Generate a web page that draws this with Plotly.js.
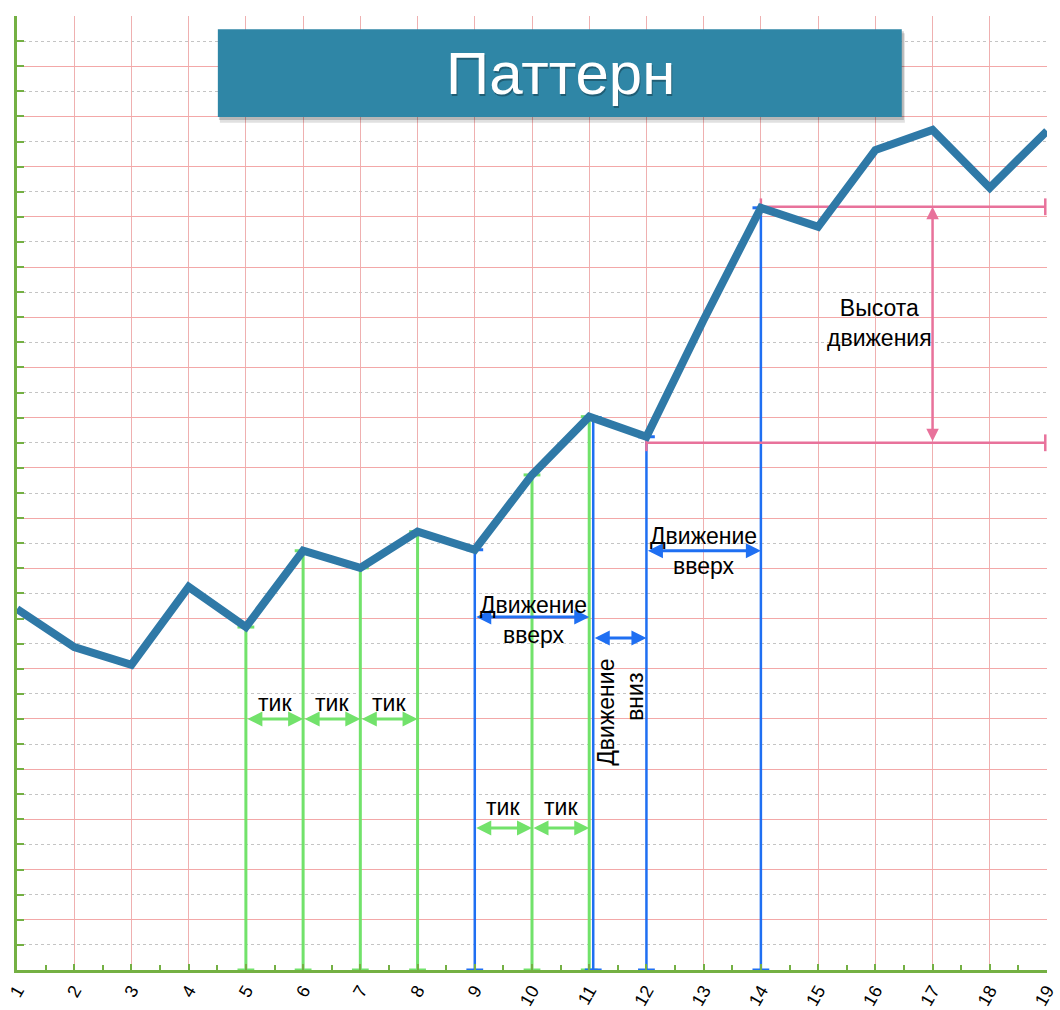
<!DOCTYPE html>
<html>
<head>
<meta charset="utf-8">
<script src="https://cdn.plot.ly/plotly-3.0.1.min.js"></script>
<style>html,body{margin:0;padding:0;background:#fff;}#chart{width:1060px;height:1010px;}</style>
</head>
<body>
<div id="chart"></div>
<script>
// ---- data ----
const xTicks = [1,2,3,4,5,6,7,8,9,10,11,12,13,14,15,16,17,18,19];
const tickLabels = ["1","2","3","4","5","6","7","8","9","10","11","12","13","14","15","16","17","18","19"];
const priceValues = [7.19,6.43,6.08,7.63,6.83,8.35,8.01,8.73,8.37,9.86,11.02,10.62,12.95,15.18,14.80,16.33,16.73,15.58,16.71];

const greenLineX = [5,6,7,8,10,11];
const greenLineTop = [6.83,8.35,8.01,8.73,9.86,11.02];
const blueLineX = [9,11.07,12,14];
const blueLineTop = [8.37,11.0,10.62,15.18];

// tick arrows
const tickArrowFrom = [5,6,7,9,10];
const tickArrowTo   = [6,7,8,10,11];
const tickArrowY    = [5.0,5.0,5.0,2.83,2.83];
const tickLabelY    = [5.32,5.32,5.32,3.24,3.24];
const tickText = "тик";

// blue movement arrows
const moveFrom = [9,11.07,12];
const moveTo   = [11,12,14];
const moveY    = [7.03,6.61,8.35];

// height of movement
const heightLow = 10.5;
const heightHigh = 15.2;
const heightLowFrom = 12;
const heightHighFrom = 14;
const heightRightX = 18.97;
const heightArrowX = 17;

const green = '#72e26b';
const blue = '#1f6ff2';
const pink = '#e8729b';
const axisGreen = '#74b043';
const mainLine = '#2f79a7';
const font = 'Liberation Sans, Arial, sans-serif';

const traces = [];
greenLineX.forEach((x,i)=>{
  traces.push({x:[x,x], y:[0,greenLineTop[i]], mode:'lines+markers', line:{color:green,width:3},
    marker:{symbol:'line-ew', size:12, line:{color:green,width:3}}, hoverinfo:'skip', showlegend:false, cliponaxis:false});
});
blueLineX.forEach((x,i)=>{
  traces.push({x:[x,x], y:[0,blueLineTop[i]], mode:'lines+markers', line:{color:blue,width:2.5},
    marker:{symbol:'line-ew', size:12, line:{color:blue,width:3}}, hoverinfo:'skip', showlegend:false, cliponaxis:false});
});
traces.push({x:[heightHighFrom, heightRightX], y:[heightHigh,heightHigh], mode:'lines+markers', line:{color:pink,width:2.5},
  marker:{symbol:'line-ns', size:12, line:{color:pink,width:2.5}}, hoverinfo:'skip', showlegend:false, cliponaxis:false});
traces.push({x:[heightLowFrom, heightRightX], y:[heightLow,heightLow], mode:'lines+markers', line:{color:pink,width:2.5},
  marker:{symbol:'line-ns', size:12, line:{color:pink,width:2.5}}, hoverinfo:'skip', showlegend:false, cliponaxis:false});
traces.push({x:xTicks, y:priceValues, mode:'lines', line:{color:mainLine,width:8}, hoverinfo:'skip', showlegend:false, cliponaxis:false});

const annotations = [];
function arrow(x0,x1,y0,y1,color,width){
  return {x:x1,y:y1,ax:x0,ay:y0,xref:'x',yref:'y',axref:'x',ayref:'y',text:'',showarrow:true,
    arrowside:'end+start',arrowhead:2,arrowsize:1,arrowwidth:width,arrowcolor:color,standoff:0,startstandoff:0};
}
const txtFont = {family:font,size:23,color:'#000'};
tickArrowFrom.forEach((f,i)=>{
  annotations.push(arrow(f,tickArrowTo[i],tickArrowY[i],tickArrowY[i],green,3));
  annotations.push({x:(f+tickArrowTo[i])/2, y:tickLabelY[i], xref:'x', yref:'y', text:tickText, showarrow:false,
    font:{family:font,size:23,color:'#000'}});
});
moveFrom.forEach((f,i)=>{
  annotations.push(arrow(f,moveTo[i],moveY[i],moveY[i],blue,3));
});
annotations.push({x:10.02, y:6.98, xref:'x', yref:'y', text:'Движение<br>вверх', showarrow:false, font:txtFont});
annotations.push({x:13.0, y:8.35, xref:'x', yref:'y', text:'Движение<br>вверх', showarrow:false, font:txtFont});
annotations.push({x:11.29, y:5.14, xref:'x', yref:'y', text:'Движение', textangle:-90, showarrow:false, font:txtFont});
annotations.push({x:11.8, y:5.44, xref:'x', yref:'y', text:'вниз', textangle:-90, showarrow:false, font:txtFont});
annotations.push(arrow(heightArrowX,heightArrowX,heightLow,heightHigh,pink,2.5));
annotations.push({x:16.07, y:12.88, xref:'x', yref:'y', text:'Высота<br>движения', showarrow:false, font:txtFont});
// title
annotations.push({x:0.528, y:0.94, xref:'paper', yref:'paper', xanchor:'center', yanchor:'middle', text:'Паттерн', showarrow:false,
  font:{family:font,size:60,color:'rgba(0,0,0,0.3)'}, xshift:1, yshift:-2});
annotations.push({x:0.528, y:0.94, xref:'paper', yref:'paper', xanchor:'center', yanchor:'middle', text:'Паттерн', showarrow:false,
  font:{family:font,size:60,color:'#ffffff'}});

const shapes = [
  {type:'rect', xref:'paper', yref:'paper', x0:0.197, x1:0.862, y0:0.888, y1:0.982, fillcolor:'rgba(0,0,0,0.12)', line:{width:0}, layer:'above'},
  {type:'rect', xref:'paper', yref:'paper', x0:0.196, x1:0.861, y0:0.891, y1:0.984, fillcolor:'rgba(0,0,0,0.18)', line:{width:0}, layer:'above'},
  {type:'rect', xref:'paper', yref:'paper', x0:0.195, x1:0.859, y0:0.894, y1:0.986, fillcolor:'#2f86a6', line:{width:0}, layer:'above'}
];

const layout = {
  width:1060, height:1010,
  margin:{l:17, r:13, t:16, b:40},
  paper_bgcolor:'#ffffff', plot_bgcolor:'#ffffff',
  showlegend:false,
  xaxis:{range:[1,19], tickmode:'array', tickvals:xTicks, ticktext:tickLabels, tickangle:-60,
    tickfont:{family:font,size:18,color:'#000'}, ticks:'inside', ticklen:6, tickwidth:2, tickcolor:axisGreen,
    showline:true, linecolor:axisGreen, linewidth:3, showgrid:true, gridcolor:'#efb0b0', gridwidth:1,
    zeroline:false, fixedrange:true,
    minor:{dtick:0.5, ticks:'inside', ticklen:5, tickwidth:2, tickcolor:axisGreen, showgrid:false}},
  yaxis:{range:[0,19], dtick:1, showticklabels:false, ticks:'inside', ticklen:7, tickwidth:2, tickcolor:axisGreen,
    showline:true, linecolor:axisGreen, linewidth:3, showgrid:true, gridcolor:'#f3a8a8', gridwidth:1,
    zeroline:false, fixedrange:true,
    minor:{dtick:0.5, ticks:'inside', ticklen:7, tickwidth:2, tickcolor:axisGreen, showgrid:true, gridcolor:'#c4c4c4', griddash:'dot', gridwidth:1}},
  annotations:annotations,
  shapes:shapes
};

Plotly.newPlot('chart', traces, layout, {displayModeBar:false, staticPlot:true});
</script>
</body>
</html>
